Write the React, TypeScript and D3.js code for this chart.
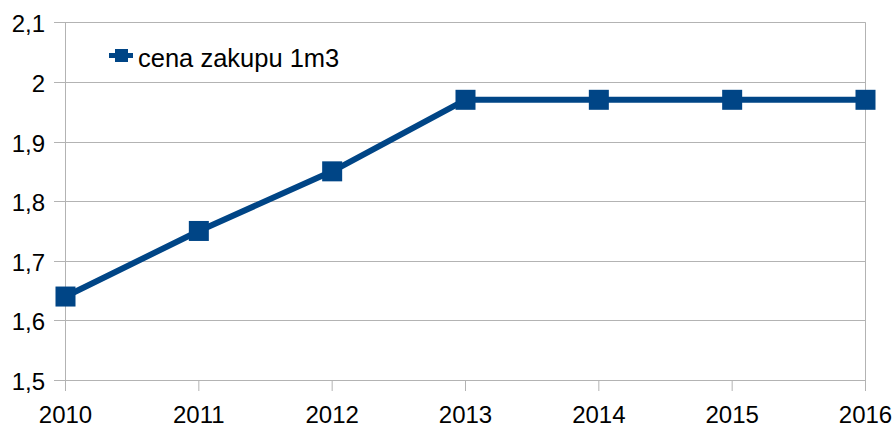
import React from 'react';
import * as d3 from 'd3';

const years = ['2010', '2011', '2012', '2013', '2014', '2015', '2016'];
const prices = [1.64, 1.75, 1.85, 1.97, 1.97, 1.97, 1.97];
const yTicks = [1.5, 1.6, 1.7, 1.8, 1.9, 2.0, 2.1];
const seriesName = 'cena zakupu 1m3';

const width = 895;
const height = 427;
const color = '#004586';
const gridColor = '#b3b3b3';
const font = '"Liberation Sans", Arial, sans-serif';

const App: React.FC = () => {
    const x = d3.scalePoint<string>().domain(years).range([65.5, 865.5]);
    const y = d3.scaleLinear().domain([1.5, 2.1]).range([380, 22.3]);

    const line = d3.line<number>()
        .x((_, i) => x(years[i]) as number)
        .y(d => y(d));

    const fmt = (v: number) => (Number.isInteger(v) ? String(v) : v.toFixed(1).replace('.', ','));

    return (
        <svg width={width} height={height}
            style={{ position: 'absolute', left: 0, top: 0, background: '#fff', fontFamily: font }}>
            <rect x={0} y={0} width={width} height={height} fill="#fff" />

            {/* horizontal grid + y ticks */}
            {yTicks.map(t => (
                <g key={t}>
                    <line x1={54} x2={865.5} y1={Math.round(y(t)) + 0.5} y2={Math.round(y(t)) + 0.5}
                        stroke={gridColor} strokeWidth={1} />
                    <text x={45} y={y(t) + 10} textAnchor="end" fontSize={24} fill="#000">{fmt(t)}</text>
                </g>
            ))}

            {/* left axis and right border */}
            <line x1={65.5} x2={65.5} y1={y(2.1)} y2={391} stroke={gridColor} />
            <line x1={865.5} x2={865.5} y1={y(2.1)} y2={391} stroke={gridColor} />

            {/* x ticks and labels */}
            {years.map(yr => (
                <g key={yr}>
                    <line x1={x(yr)} x2={x(yr)} y1={380} y2={391} stroke={gridColor} />
                    <text x={x(yr)} y={423} textAnchor="middle" fontSize={24} fill="#000">{yr}</text>
                </g>
            ))}

            {/* series */}
            <path d={line(prices) || ''} fill="none" stroke={color} strokeWidth={6} strokeLinejoin="round" />
            {prices.map((p, i) => (
                <rect key={i} x={(x(years[i]) as number) - 10} y={y(p) - 10} width={20} height={20} fill={color} />
            ))}

            {/* legend */}
            <line x1={109} x2={133} y1={55.5} y2={55.5} stroke={color} strokeWidth={5} />
            <rect x={115} y={49} width={13} height={13} fill={color} />
            <text x={138} y={67} fontSize={25.5} fill="#000">{seriesName}</text>
        </svg>
    );
};

export default App;
